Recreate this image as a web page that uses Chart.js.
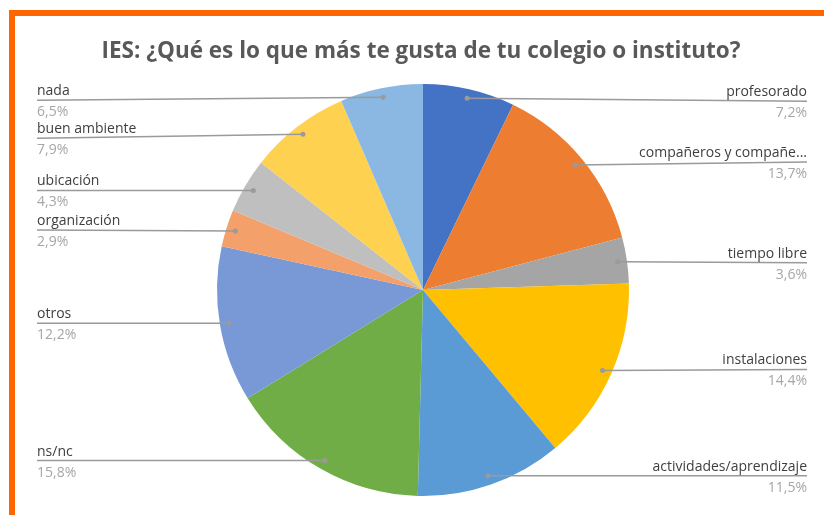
<!DOCTYPE html>
<html lang="es">
<head>
<meta charset="utf-8">
<title>IES: ¿Qué es lo que más te gusta de tu colegio o instituto?</title>
<script src="https://cdn.jsdelivr.net/npm/chart.js@4.4.1/dist/chart.umd.min.js"></script>
<style>
  html, body { margin: 0; padding: 0; background: #ffffff; }
  #wrap { width: 824px; height: 515px; position: relative; }
</style>
</head>
<body>
<div id="wrap"><canvas id="chart" width="824" height="515"></canvas></div>
<script>
// Survey answers, clockwise from the top
const categories = [
  'profesorado', 'compañeros y compañe...', 'tiempo libre', 'instalaciones',
  'actividades/aprendizaje', 'ns/nc', 'otros', 'organización', 'ubicación',
  'buen ambiente', 'nada'
];
const percentages = [7.2, 13.7, 3.6, 14.4, 11.5, 15.8, 12.2, 2.9, 4.3, 7.9, 6.5];
const percentLabels = ['7,2%', '13,7%', '3,6%', '14,4%', '11,5%', '15,8%', '12,2%', '2,9%', '4,3%', '7,9%', '6,5%'];
const chartTitle = 'IES: ¿Qué es lo que más te gusta de tu colegio o instituto?';

// Slice colours (Office palette and its lighter variants)
const sliceColors = [
  '#4472C4', '#ED7D31', '#A5A5A5', '#FFC000', '#5B9BD5', '#70AD47',
  '#7899D6', '#F3A06A', '#BFBFBF', '#FFD150', '#8AB8E2'
];
// Small vertical nudges so stacked labels keep their spacing
const labelNudge = [3, -3, 1, -1, 0, 0, 0, -1, 0, 4, 3];

const FONT = '"Open Sans", Lato, sans-serif';

const labelPlugin = {
  id: 'calloutLabels',
  beforeDraw(chart) {
    const ctx = chart.ctx;
    ctx.save();
    ctx.fillStyle = '#ffffff';
    ctx.fillRect(0, 0, chart.width, chart.height);
    // orange frame (top and left edges)
    ctx.fillStyle = '#FF6600';
    ctx.fillRect(9, 10, chart.width - 9, 6);
    ctx.fillRect(9, 10, 6, chart.height - 10);
    ctx.restore();
  },
  afterDraw(chart) {
    const ctx = chart.ctx;
    const meta = chart.getDatasetMeta(0);
    ctx.save();
    // title
    ctx.font = '700 22.5px ' + FONT;
    ctx.fillStyle = '#595959';
    ctx.textAlign = 'center';
    ctx.textBaseline = 'alphabetic';
    ctx.fillText(chartTitle, 421, 58);

    const leftX = 37, rightX = 807;
    meta.data.forEach((arc, i) => {
      const p = arc.getProps(['x', 'y', 'startAngle', 'endAngle', 'outerRadius'], true);
      const mid = (p.startAngle + p.endAngle) / 2;
      const r = p.outerRadius * 0.955;
      const dx = p.x + Math.cos(mid) * r;
      const dy = p.y + Math.sin(mid) * r;
      const right = Math.cos(mid) >= 0;
      const ly = dy + labelNudge[i];
      const lx = right ? rightX : leftX;

      // leader line
      ctx.strokeStyle = '#9a9a9a';
      ctx.lineWidth = 1.5;
      ctx.beginPath();
      ctx.moveTo(lx, ly);
      ctx.lineTo(dx, dy);
      ctx.stroke();
      ctx.fillStyle = '#9a9a9a';
      ctx.beginPath();
      ctx.arc(dx, dy, 2.5, 0, Math.PI * 2);
      ctx.fill();

      // category name and percentage
      ctx.textAlign = right ? 'right' : 'left';
      ctx.font = '400 14px ' + FONT;
      ctx.fillStyle = '#404040';
      ctx.fillText(categories[i], lx, ly - 5);
      ctx.fillStyle = '#a6a6a6';
      ctx.fillText(percentLabels[i], lx, ly + 16);
    });
    ctx.restore();
  }
};

new Chart(document.getElementById('chart'), {
  type: 'pie',
  data: {
    labels: categories,
    datasets: [{
      data: percentages,
      backgroundColor: sliceColors,
      borderWidth: 0,
      hoverOffset: 0,
      offset: 0
    }]
  },
  options: {
    responsive: false,
    animation: false,
    events: [],
    layout: { padding: { top: 84, bottom: 19, left: 217, right: 195 } },
    plugins: {
      legend: { display: false },
      title: { display: false },
      tooltip: { enabled: false }
    }
  },
  plugins: [labelPlugin]
});
</script>
</body>
</html>
